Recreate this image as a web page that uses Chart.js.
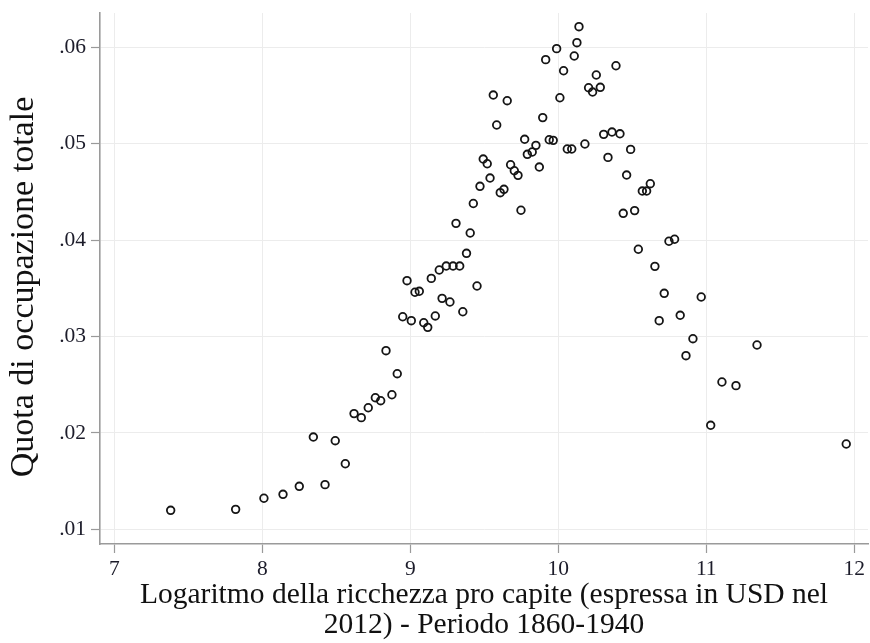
<!DOCTYPE html>
<html>
<head>
<meta charset="utf-8">
<script src="https://cdn.jsdelivr.net/npm/chart.js@4"></script>
<style>
html,body{margin:0;padding:0;background:#fff;}
#wrap{width:870px;height:643px;position:relative;}
</style>
</head>
<body>
<div id="wrap"><canvas id="c" width="870" height="643"></canvas></div>
<script>
const logWealth = [7.381,7.820,8.011,8.140,8.250,8.345,8.424,8.493,8.561,8.620,
8.669,8.716,8.764,8.800,8.836,8.876,8.912,8.949,8.978,9.007,
9.032,9.061,9.091,9.118,9.142,9.169,9.196,9.215,9.243,9.268,
9.289,9.309,9.334,9.355,9.380,9.405,9.426,9.451,9.471,9.493,
9.520,9.539,9.561,9.584,9.608,9.633,9.655,9.678,9.703,9.728,
9.748,9.773,9.791,9.824,9.849,9.872,9.895,9.915,9.939,9.966,
9.989,10.011,10.036,10.061,10.091,10.108,10.126,10.140,10.180,10.205,
10.232,10.257,10.284,10.307,10.336,10.363,10.390,10.417,10.439,10.462,
10.489,10.516,10.541,10.568,10.597,10.622,10.653,10.682,10.716,10.748,
10.786,10.824,10.863,10.910,10.966,11.030,11.106,11.201,11.343,11.946];
const employmentShare = [0.01197,0.01207,0.01322,0.01363,0.01446,0.01957,0.01463,0.01919,0.0168,0.0220,
0.02158,0.02261,0.02365,0.02334,0.02853,0.02396,0.02614,0.03205,0.03579,0.03164,
0.03459,0.03469,0.03143,0.03095,0.03603,0.03213,0.0369,0.03396,0.03731,0.03358,
0.03731,0.04174,0.03731,0.03257,0.03863,0.04074,0.0438,0.03524,0.04558,0.04841,
0.04792,0.04644,0.05505,0.05194,0.04492,0.04527,0.05446,0.04782,0.0472,0.04672,
0.0431,0.05046,0.0489,0.04914,0.04983,0.04758,0.05271,0.05872,0.05041,0.05035,
0.05986,0.05477,0.05757,0.04945,0.04945,0.0591,0.06048,0.06214,0.04997,0.05581,
0.05536,0.05713,0.05585,0.05097,0.04858,0.05121,0.05809,0.05103,0.04278,0.04675,
0.04941,0.04306,0.03905,0.04509,0.04509,0.04585,0.03728,0.03164,0.03448,0.03988,
0.04009,0.0322,0.02801,0.02977,0.0341,0.02079,0.02528,0.0249,0.02912,0.01885];
const xTicks = [7,8,9,10,11,12];
const xTickLabels = ['7','8','9','10','11','12'];
const yTicks = [0.01,0.02,0.03,0.04,0.05,0.06];
const yTickLabels = ['.01','.02','.03','.04','.05','.06'];
const xTitle = ['Logaritmo della ricchezza pro capite (espressa in USD nel','2012) - Periodo 1860-1940'];
const yTitle = 'Quota di occupazione totale';

const points = logWealth.map((x,i)=>({x:x,y:employmentShare[i]}));
const FAMILY = '"Liberation Serif","Times New Roman",serif';
const noPad = s => { s.paddingLeft = 0; s.paddingRight = 0; s.paddingTop = 0; s.paddingBottom = 0; };

new Chart(document.getElementById('c'), {
  type: 'scatter',
  data: { datasets: [{
    data: points,
    pointStyle: 'circle',
    pointRadius: 3.8,
    pointHoverRadius: 3.8,
    borderWidth: 1.8,
    borderColor: '#151515',
    backgroundColor: 'rgba(0,0,0,0)'
  }]},
  options: {
    responsive: false,
    animation: false,
    events: [],
    layout: { autoPadding: false, padding: { top: 13, right: 2, left: 0, bottom: 0 } },
    plugins: { legend: { display: false }, tooltip: { enabled: false } },
    scales: {
      x: {
        type: 'linear',
        min: 6.9034, max: 12.093,
        afterBuildTicks: s => { s.ticks = xTicks.map(v=>({value:v})); },
        afterFit: s => { s.height = 99; noPad(s); },
        ticks: { callback: (v,i) => xTickLabels[i], color: '#1c1c2a', font: { family: FAMILY, size: 21.5 }, padding: 3, maxRotation: 0, autoSkip: false },
        grid: { color: '#ececec', lineWidth: 1, tickColor: '#9a9a9a', tickLength: 9, tickWidth: 1.2 },
        border: { display: true, color: '#9a9a9a', width: 1.6 },
        title: { display: true, text: xTitle, color: '#111', font: { family: FAMILY, size: 29.5, lineHeight: 1.04 }, padding: { top: 0, bottom: 2 } }
      },
      y: {
        type: 'linear',
        min: 0.008475, max: 0.06356,
        afterBuildTicks: s => { s.ticks = yTicks.map(v=>({value:v})); },
        afterFit: s => { s.width = 100; noPad(s); },
        ticks: { callback: (v,i) => yTickLabels[i], color: '#1c1c2a', font: { family: FAMILY, size: 21.5 }, padding: 5, autoSkip: false },
        grid: { color: '#ececec', lineWidth: 1, tickColor: '#9a9a9a', tickLength: 9, tickWidth: 1.2 },
        border: { display: true, color: '#9a9a9a', width: 1.6 },
        title: { display: true, text: yTitle + '\u00a0\u00a0', color: '#111', font: { family: FAMILY, size: 34, lineHeight: 1.1 }, padding: { top: 5, bottom: 0 } }
      }
    }
  }
});
</script>
</body>
</html>
